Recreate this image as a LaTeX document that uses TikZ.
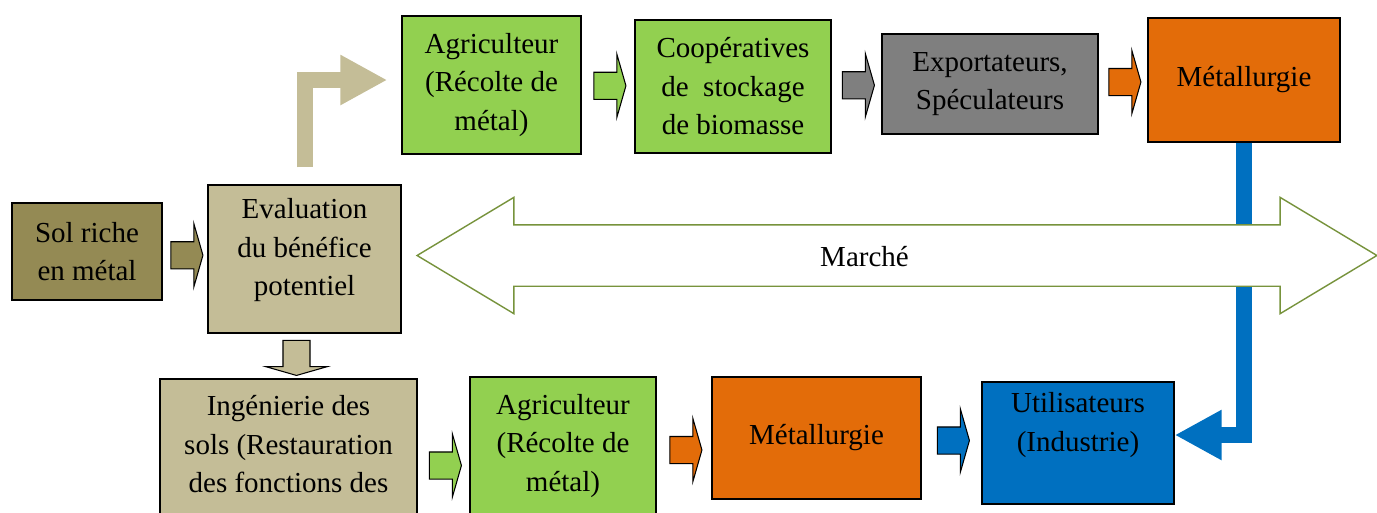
\documentclass[tikz,border=0pt]{standalone}
\usepackage{fontspec}
\setmainfont{Liberation Serif}
\usetikzlibrary{shapes.arrows,arrows.meta,calc}
\definecolor{solbrun}{HTML}{948A54}
\definecolor{beigetan}{HTML}{C4BD97}
\definecolor{vertpomme}{HTML}{92D050}
\definecolor{grisexp}{HTML}{7F7F7F}
\definecolor{orangemet}{HTML}{E36C09}
\definecolor{bleuind}{HTML}{0070C0}
\definecolor{vertmarche}{HTML}{77933C}
\tikzset{
	box/.style={draw=black,line width=0.8pt,inner sep=0pt,align=center,
		font=\fontsize{16.5}{21.9}\selectfont},
	blockarrow/.style={single arrow,draw=black,line width=0.6pt,inner xsep=0pt,inner ysep=0.26cm,
		minimum height=0.64cm,minimum width=1.24cm,
		single arrow head extend=0.36cm,single arrow tip angle=148},
	bentarrow/.style={line width=0.32cm,line join=miter,
		-{Triangle[length=0.94cm,width=0.94cm]}},
	marche/.style={double arrow,draw=vertmarche,fill=white,line width=0.8pt,inner xsep=0pt,inner ysep=0.6cm,
		minimum height=19.2cm,minimum width=2.3cm,
		double arrow head extend=0.55cm,double arrow tip angle=62}
}
\begin{document}
\begin{tikzpicture}[x=0.02cm,y=-0.02cm]
	\useasboundingbox (0,0) rectangle (1377,512);
	\clip (0,0) rectangle (1377,512);
	% boites du haut
	\node[box,fill=solbrun,minimum width=3cm,minimum height=1.94cm](sol) at (87,251.5){Sol riche\\en métal};
	\node[box,fill=beigetan,minimum width=3.86cm,minimum height=2.96cm](eval) at (304.5,259){Evaluation\\du bénéfice\\potentiel\\[-0.52cm]\strut};
	\node[box,fill=vertpomme,minimum width=3.58cm,minimum height=2.76cm](agritop) at (491.5,85){Agriculteur\\(Récolte de\\métal)};
	\node[box,fill=vertpomme,minimum width=3.92cm,minimum height=2.66cm](coop) at (733,86.5){Coopératives\\de~~stockage\\de biomasse};
	\node[box,fill=grisexp,minimum width=4.32cm,minimum height=2cm](export) at (990,84){Exportateurs,\\Spéculateurs};
	\node[box,fill=orangemet,minimum width=3.84cm,minimum height=2.48cm](metaltop) at (1244,80){Métallurgie};
	% boites du bas
	\node[box,fill=beigetan,minimum width=5.14cm,minimum height=3.6cm](inge) at (288.5,469){Ingénierie des\\sols (Restauration\\des fonctions des\\\strut};
	\node[box,fill=vertpomme,minimum width=3.72cm,minimum height=3.4cm](agribot) at (563,462){Agriculteur\\(Récolte de\\métal)\\[-0.22cm]\strut};
	\node[box,fill=orangemet,minimum width=4.18cm,minimum height=2.44cm](metalbot) at (816.5,438){Métallurgie};
	\node[box,fill=bleuind,minimum width=3.84cm,minimum height=2.44cm](util) at (1078,443){Utilisateurs\\(Industrie)\\[-0.16cm]\strut};
	% fleches
	\node[blockarrow,fill=solbrun](a1) at ($(sol.east)!0.5!(eval.west)$){};
	\node[blockarrow,fill=vertpomme](a2) at ($(agritop.east)!0.5!(coop.west)$){};
	\node[blockarrow,fill=grisexp](a3) at ($(coop.east)!0.5!(export.west)$){};
	\node[blockarrow,fill=orangemet](a4) at ($(export.east)!0.5!(metaltop.west)$){};
	\node[blockarrow,fill=beigetan,rotate=-90,minimum height=0.7cm,minimum width=1.2cm,single arrow head extend=0.34cm](a5) at ($(eval.south)!0.5!(inge.north)$){};
	\node[blockarrow,fill=vertpomme](a6) at ($(inge.east)!0.5!(agribot.west)$ |- metalbot){};
	\node[blockarrow,fill=orangemet](a7) at ($(agribot.east)!0.5!(metalbot.west)$ |- metalbot){};
	\node[blockarrow,fill=bleuind](a8) at ($(metalbot.east)!0.5!(util.west)$ |- metalbot){};
	\draw[bentarrow,bleuind](metaltop.south) |- ($(util.east)+(0,-8)$);
	% marche
	\node[marche](march) at (897,255.5){};
	\node[font=\fontsize{16.5}{21.9}\selectfont](marchetxt) at (864.5,257){Marché};
	\draw[bentarrow,beigetan]($(eval.north)+(0,-17)$) |- ($(agritop.west)+(-14,-5)$);
\end{tikzpicture}
\end{document}
